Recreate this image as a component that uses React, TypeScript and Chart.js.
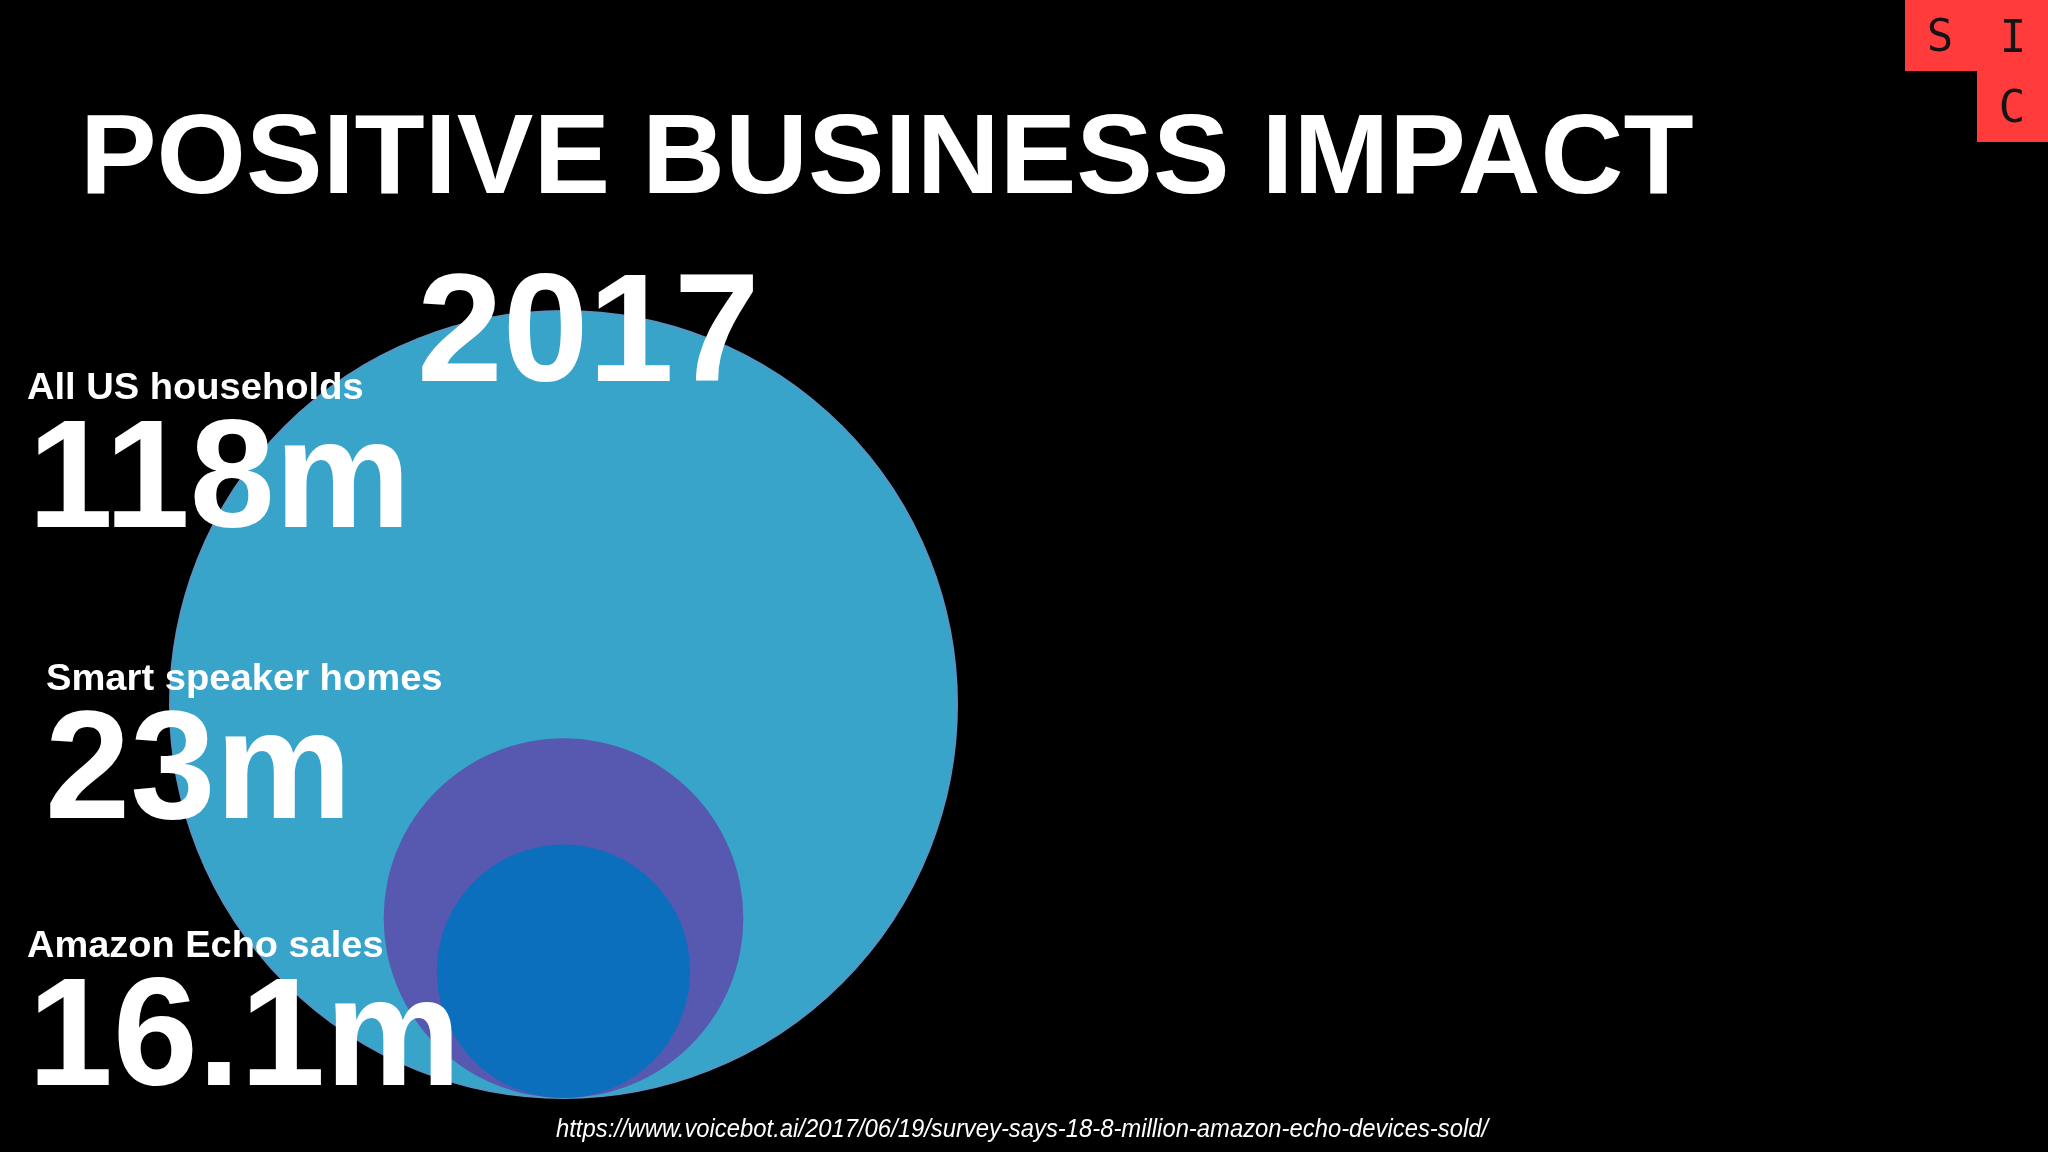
import React, { useEffect, useRef } from "react";
import { Chart, registerables } from "chart.js";

Chart.register(...registerables);

// ---- data ----
const categories = ["All US households", "Smart speaker homes", "Amazon Echo sales"];
const valuesMillions = [118, 23, 16.1];
const valueUnit = "m";
// relative circle radius of each bubble (largest = 1)
const bubbleSize = [1, 0.457, 0.322];
const bubbleColors = ["#39A4C9", "#5758AF", "#0B6FBE"];
const titleText = "POSITIVE BUSINESS IMPACT";
const yearText = "2017";
const sourceText =
  "https://www.voicebot.ai/2017/06/19/survey-says-18-8-million-amazon-echo-devices-sold/";
const logoLetters = ["S", "I", "C"];

const W = 2048;
const H = 1152;
const PAD = { left: 170, right: 1091, top: 311, bottom: 54 };
const BOLD = '"Liberation Sans", Arial, Helvetica, sans-serif';

function fitText(
  ctx: CanvasRenderingContext2D,
  text: string,
  font: string,
  inkLeft: number,
  inkRight: number,
  baseline: number,
  color: string
) {
  ctx.save();
  ctx.font = font;
  ctx.textBaseline = "alphabetic";
  ctx.textAlign = "left";
  const m = ctx.measureText(text);
  const inkW = m.actualBoundingBoxLeft + m.actualBoundingBoxRight;
  const sx = inkW > 0 ? (inkRight - inkLeft) / inkW : 1;
  ctx.translate(inkLeft, baseline);
  ctx.scale(sx, 1);
  ctx.fillStyle = color;
  ctx.fillText(text, m.actualBoundingBoxLeft, 0);
  ctx.restore();
}

// layout of the text blocks (positions only, no data)
const labelLayout = [
  { l: 27, r: 363, b: 399, vl: 37, vr: 402, vb: 527 },
  { l: 47, r: 442, b: 690, vl: 50, vr: 343, vb: 818 },
  { l: 27, r: 383, b: 957, vl: 37, vr: 452, vb: 1085 },
];

const backgroundPlugin = {
  id: "bg",
  beforeDraw(chart: any) {
    const ctx = chart.ctx as CanvasRenderingContext2D;
    ctx.save();
    ctx.fillStyle = "#000000";
    ctx.fillRect(0, 0, chart.width, chart.height);
    ctx.restore();
  },
};

const textPlugin = {
  id: "slideText",
  afterDatasetsDraw(chart: any) {
    const ctx = chart.ctx as CanvasRenderingContext2D;
    // title
    fitText(ctx, titleText, `bold 114px ${BOLD}`, 87, 1693, 193, "#FFFFFF");
    // labels and values
    categories.forEach((c, i) => {
      const p = labelLayout[i];
      fitText(ctx, c, `bold 37px ${BOLD}`, p.l, p.r, p.b, "#FFFFFF");
      fitText(ctx, `${valuesMillions[i]}${valueUnit}`, `bold 154px ${BOLD}`, p.vl, p.vr, p.vb, "#FFFFFF");
    });
    // year
    fitText(ctx, yearText, `bold 154px ${BOLD}`, 422, 753, 381, "#FFFFFF");
    // source
    fitText(
      ctx,
      sourceText,
      'italic 25px "Liberation Sans Narrow", "Liberation Sans", sans-serif',
      556,
      1491,
      1137,
      "#FFFFFF"
    );
    // logo
    ctx.save();
    ctx.fillStyle = "#FF3B3B";
    ctx.fillRect(1905, 0, W - 1905, 71);
    ctx.fillRect(1977, 71, W - 1977, 71);
    ctx.fillStyle = "#141414";
    ctx.font = '44px "DejaVu Sans Mono", monospace';
    ctx.textAlign = "center";
    ctx.textBaseline = "alphabetic";
    ctx.fillText(logoLetters[0], 1940, 51);
    ctx.fillText(logoLetters[1], 2013, 52);
    ctx.fillText(logoLetters[2], 2012, 122);
    ctx.restore();
  },
};

export default function App() {
  const canvasRef = useRef<HTMLCanvasElement | null>(null);

  useEffect(() => {
    const canvas = canvasRef.current;
    if (!canvas) return;
    const chart = new Chart(canvas, {
      type: "bubble",
      data: {
        datasets: categories.map((c, i) => ({
          label: c,
          data: [{ x: 0, y: bubbleSize[i] }],
          // radius in pixels = size in y-units * (pixels per y-unit); y spans 0..2
          radius: (ctx: any) => {
            const plotH = (ctx.chart.height || H) - PAD.top - PAD.bottom;
            return (bubbleSize[i] * plotH) / 2;
          },
          backgroundColor: bubbleColors[i],
          borderColor: i === 0 ? "#5596C4" : bubbleColors[i],
          borderWidth: i === 0 ? 2 : 0,
          hoverRadius: 0,
          order: categories.length - i,
          clip: false,
        })),
      } as any,
      options: {
        responsive: false,
        animation: false,
        events: [],
        layout: { autoPadding: false, padding: PAD },
        scales: {
          x: { type: "linear", min: -1, max: 1, display: false },
          y: { type: "linear", min: 0, max: 2, display: false },
        },
        plugins: {
          legend: { display: false },
          tooltip: { enabled: false },
          title: { display: false },
        },
      } as any,
      plugins: [backgroundPlugin, textPlugin],
    });
    return () => chart.destroy();
  }, []);

  return (
    <div
      style={{
        position: "fixed",
        left: 0,
        top: 0,
        width: W,
        height: H,
        background: "#000",
        overflow: "hidden",
      }}
    >
      <canvas ref={canvasRef} width={W} height={H} style={{ width: W, height: H, display: "block" }} />
    </div>
  );
}
